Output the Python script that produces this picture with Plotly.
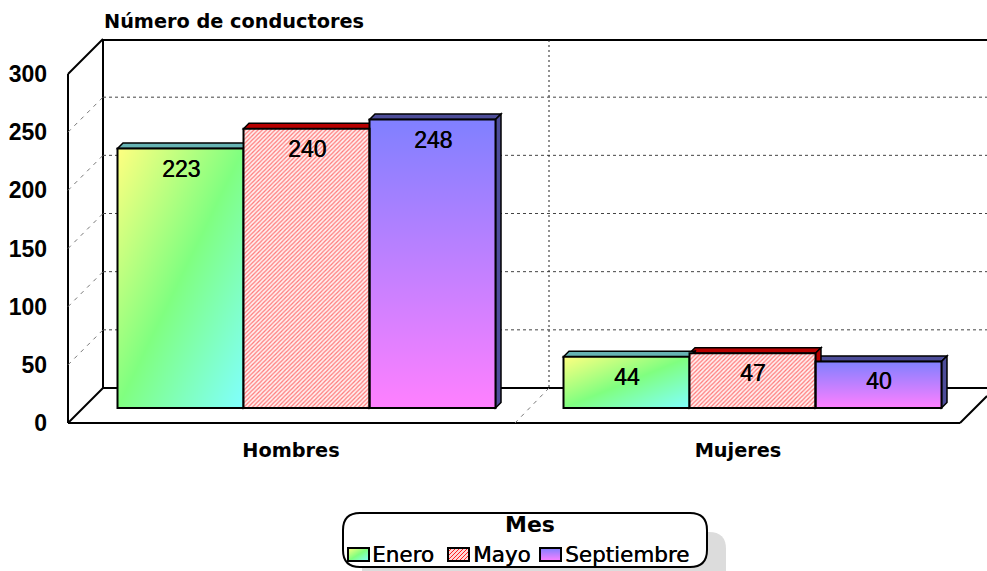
import base64
import plotly.graph_objects as go

categories = ["Hombres", "Mujeres"]
enero = [223, 44]
mayo = [240, 47]
septiembre = [248, 40]
y_ticks = [0, 50, 100, 150, 200, 250, 300]
legend_title = "Mes"
chart_title = "Número de conductores"

W, H = 987, 571
FONT = "Liberation Sans"
WIDE = "DejaVu Sans"
THICK = "0.4px 0 0 #000000"
PX_PER_UNIT = 1.1633
DEPTH = 35          # wall depth in px
BAR_DEPTH = 5.5
FRONT_L, FRONT_B = 68, 423
BACK_L, BACK_B = FRONT_L + DEPTH, FRONT_B - DEPTH
TOP = 40
BAR_BASE = 408
GROUP_STEP = 446
GROUP0 = 306.5
BAR_W = 126


def fx(p):
    return p / W


def fy(p):
    return 1 - p / H


def svg_uri(svg):
    return "data:image/svg+xml;base64," + base64.b64encode(svg.encode()).decode()


GRAD_GREEN = svg_uri(
    '<svg xmlns="http://www.w3.org/2000/svg" width="100" height="100" viewBox="0 0 100 100" preserveAspectRatio="none">'
    '<defs><linearGradient id="g" x1="0" y1="0" x2="1" y2="1">'
    '<stop offset="0" stop-color="#ffff80"/><stop offset="0.5" stop-color="#80ff80"/><stop offset="1" stop-color="#80ffff"/>'
    '</linearGradient></defs><rect width="100" height="100" fill="url(#g)"/></svg>')
GRAD_VIOLET = svg_uri(
    '<svg xmlns="http://www.w3.org/2000/svg" width="100" height="100" viewBox="0 0 100 100" preserveAspectRatio="none">'
    '<defs><linearGradient id="g" x1="0" y1="0" x2="0" y2="1">'
    '<stop offset="0" stop-color="#8080ff"/><stop offset="1" stop-color="#ff80ff"/>'
    '</linearGradient></defs><rect width="100" height="100" fill="url(#g)"/></svg>')
HATCH = svg_uri(
    '<svg xmlns="http://www.w3.org/2000/svg" width="21" height="13">'
    '<defs><pattern id="p" width="4" height="4" patternUnits="userSpaceOnUse">'
    '<rect width="4" height="4" fill="#ffd8d8"/><path d="M-1,1 L1,-1 M0,4 L4,0 M3,5 L5,3" stroke="#ff2020" stroke-width="1"/>'
    '</pattern></defs><rect width="21" height="13" fill="url(#p)"/></svg>')

series = [
    ("Enero", enero, "#66b3b3", GRAD_GREEN),
    ("Mayo", mayo, "#b80000", None),
    ("Septiembre", septiembre, "#4d4d99", GRAD_VIOLET),
]

fig = go.Figure()

shapes = []
images = []
annotations = []


def line(x0, y0, x1, y1, color="#000000", width=2, dash="solid", layer="below"):
    shapes.append(dict(type="line", xref="paper", yref="paper", x0=fx(x0), y0=fy(y0), x1=fx(x1), y1=fy(y1),
                       line=dict(color=color, width=width, dash=dash), layer=layer))


def poly(points, fill, lw=2, lc="#000000", layer="below"):
    d = "M " + " L ".join(f"{fx(a):.5f},{fy(b):.5f}" for a, b in points) + " Z"
    shapes.append(dict(type="path", xref="paper", yref="paper", path=d, fillcolor=fill,
                       line=dict(color=lc, width=lw), layer=layer))


# walls
line(BACK_L, TOP, W, TOP)
line(BACK_L, TOP, BACK_L, BACK_B)
line(BACK_L, BACK_B, W, BACK_B)
line(FRONT_L, FRONT_B - 300 * PX_PER_UNIT, FRONT_L, FRONT_B)
line(FRONT_L, FRONT_B - 300 * PX_PER_UNIT, BACK_L, BACK_B - 300 * PX_PER_UNIT)
line(FRONT_L, FRONT_B, BACK_L, BACK_B)
line(FRONT_L, FRONT_B, 960, FRONT_B)
line(960, FRONT_B, W, FRONT_B - 27)
for v in y_ticks[1:-1]:
    yb = BACK_B - v * PX_PER_UNIT
    line(BACK_L, yb, W, yb, color="#444444", width=1, dash="3px,3px")
    line(FRONT_L, FRONT_B - v * PX_PER_UNIT, BACK_L, yb, color="#777777", width=1, dash="4px,5px")
line(549, TOP, 549, BACK_B, color="#222222", width=1, dash="2px,3px")
line(549, BACK_B, 515, FRONT_B, color="#777777", width=1, dash="4px,5px")

# 3D faces of the bars (back to front so nearer bars hide them)
for s_idx in (2, 1, 0):
    name, vals, face, grad = series[s_idx]
    for g, v in enumerate(vals):
        x0 = GROUP0 + GROUP_STEP * g + (s_idx - 1.5) * BAR_W
        x1 = x0 + BAR_W
        yt = BAR_BASE - v * PX_PER_UNIT
        d = BAR_DEPTH
        poly([(x0, yt), (x1, yt), (x1 + d, yt - d), (x0 + d, yt - d)], face, lw=1.5)
        poly([(x1, yt), (x1 + d, yt - d), (x1 + d, BAR_BASE - d), (x1, BAR_BASE)], face, lw=1.5)

# bars
bar_frac = BAR_W / GROUP_STEP
for s_idx, (name, vals, face, grad) in enumerate(series):
    if grad:
        marker = dict(color="rgba(0,0,0,0)", line=dict(color="#000000", width=2))
    else:
        marker = dict(color="#ffe0e0", line=dict(color="#000000", width=2),
                      pattern=dict(shape="/", fgcolor="#ff0000", bgcolor="#fff0f0", size=3, solidity=0.4))
    fig.add_trace(go.Bar(name=name, x=categories, y=vals, marker=marker, xaxis="x", yaxis="y",
                         showlegend=False, cliponaxis=False))
    offset = (s_idx - 1) * bar_frac
    for g, v in enumerate(vals):
        if grad:
            images.append(dict(source=grad, xref="x", yref="y", x=g + offset - bar_frac / 2, y=v,
                               sizex=bar_frac, sizey=v, sizing="stretch", xanchor="left", yanchor="top",
                               layer="below"))
        annotations.append(dict(text=str(v), xref="x", yref="y", x=g + offset, y=v, yshift=-20,
                                showarrow=False, yanchor="middle", xanchor="center",
                                font=dict(family=FONT, size=23, color="#000000", shadow=THICK)))

# invisible trace that carries the front-plane axes (tick labels)
fig.add_trace(go.Scatter(x=categories, y=[0, 0], mode="markers", marker=dict(opacity=0),
                         showlegend=False, hoverinfo="skip", xaxis="x2", yaxis="y2"))

# legend
BOX = (343, 513, 707, 567)
R = 17


def rounded(x0, y0, x1, y1, r):
    p = lambda a, b: f"{fx(a):.5f},{fy(b):.5f}"
    return (f"M {p(x0 + r, y0)} L {p(x1 - r, y0)} Q {p(x1, y0)} {p(x1, y0 + r)} L {p(x1, y1 - r)} "
            f"Q {p(x1, y1)} {p(x1 - r, y1)} L {p(x0 + r, y1)} Q {p(x0, y1)} {p(x0, y1 - r)} "
            f"L {p(x0, y0 + r)} Q {p(x0, y0)} {p(x0 + r, y0)} Z")


shapes.append(dict(type="path", xref="paper", yref="paper", path=rounded(BOX[0] + 19, BOX[1] + 19, BOX[2] + 19, BOX[3] + 19, R),
                   fillcolor="#dcdcdc", line=dict(width=0), layer="below"))
shapes.append(dict(type="path", xref="paper", yref="paper", path=rounded(*BOX, R),
                   fillcolor="#ffffff", line=dict(color="#000000", width=2), layer="below"))
annotations.append(dict(text=f"<b>{legend_title}</b>", xref="paper", yref="paper", x=fx(530), y=fy(524),
                        showarrow=False, xanchor="center", yanchor="middle",
                        font=dict(family=WIDE, size=22, color="#000000")))
legend_pos = [(348, 370), (448, 471), (540, 563)]
swatches = [GRAD_GREEN, HATCH, GRAD_VIOLET]
for (sx, tx), (name, *_), src in zip(legend_pos, series, swatches):
    images.append(dict(source=src, xref="paper", yref="paper", x=fx(sx), y=fy(548), sizex=21 / W, sizey=13 / H,
                       sizing="stretch", xanchor="left", yanchor="top", layer="above"))
    poly([(sx, 548), (sx + 21, 548), (sx + 21, 561), (sx, 561)], "rgba(0,0,0,0)", lw=2, layer="above")
    annotations.append(dict(text=name, xref="paper", yref="paper", x=fx(tx), y=fy(554), showarrow=False,
                            xanchor="left", yanchor="middle",
                            font=dict(family=WIDE, size=21.5, color="#000000", shadow=THICK)))

x_dom = [fx(FRONT_L), 1]
y_dom = [fy(FRONT_B), fy(TOP)]
y_span = (FRONT_B - TOP) / PX_PER_UNIT

fig.update_layout(
    width=W, height=H, autosize=False,
    margin=dict(l=0, r=0, t=0, b=0),
    paper_bgcolor="#ffffff", plot_bgcolor="rgba(0,0,0,0)",
    barmode="group", bargap=1 - 3 * bar_frac, bargroupgap=0,
    showlegend=False,
    title=dict(text=f"<b>{chart_title}</b>", x=fx(104), y=fy(21), xref="paper", yref="paper", xanchor="left",
               yanchor="middle", font=dict(family=WIDE, size=19.3, color="#000000")),
    font=dict(family=FONT, color="#000000"),
    xaxis=dict(domain=x_dom, type="category", categoryorder="array", categoryarray=categories,
               range=[-(GROUP0 - FRONT_L) / GROUP_STEP, (W - GROUP0) / GROUP_STEP], visible=False, anchor="y"),
    yaxis=dict(domain=y_dom, range=[-(FRONT_B - BAR_BASE) / PX_PER_UNIT, (BAR_BASE - TOP) / PX_PER_UNIT],
               visible=False, anchor="x"),
    xaxis2=dict(domain=x_dom, overlaying="x", type="category", categoryorder="array", categoryarray=categories,
                range=[-(291 - FRONT_L) / 447, (W - 291) / 447], showgrid=False, zeroline=False,
                showline=False, ticks="", ticklabelstandoff=14, anchor="y2", side="bottom",
                tickfont=dict(family=WIDE, size=19.3, weight="bold"), automargin=False),
    yaxis2=dict(domain=y_dom, overlaying="y", range=[0, y_span], tickvals=y_ticks, showgrid=False, zeroline=False,
                showline=False, ticks="", ticklabelstandoff=20, anchor="x2", side="left",
                tickfont=dict(family=FONT, size=23, weight="bold"), automargin=False),
    shapes=shapes, images=images, annotations=annotations,
)

fig.write_html("out.html", config=dict(displayModeBar=False),
               post_script="document.body.style.margin='0';")
